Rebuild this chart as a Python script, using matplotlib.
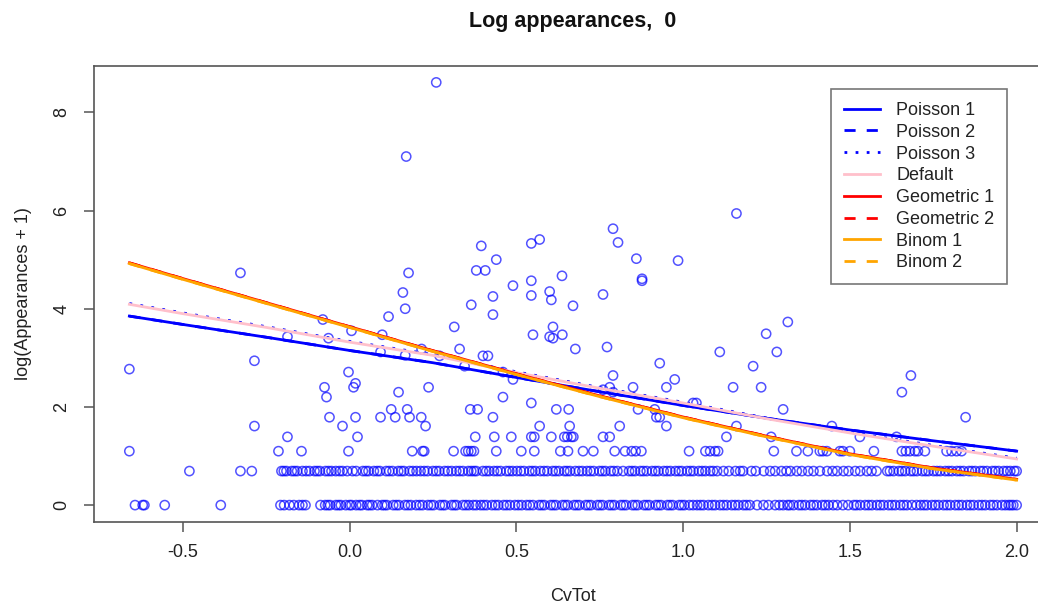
import numpy as np
import matplotlib
matplotlib.use('Agg')
import matplotlib.pyplot as plt

plt.rcParams['font.family'] = ['Liberation Sans', 'DejaVu Sans']

# CvTot values of players with 0 appearances
cv_app0 = [-0.643, -0.62, -0.615, -0.554, -0.386,
           -0.207, -0.196, -0.18, -0.167, -0.151, -0.141, -0.132,
           -0.087, -0.073, -0.058, -0.041, -0.026, -0.011, 0.006, 0.02, 0.037, 0.053, 0.068, 0.084,
           0.098, 0.112, 0.131, 0.148, 0.166, 0.184, 0.2, 0.219, 0.235, 0.252, 0.271, 0.286,
           0.306, 0.321, 0.34, 0.358, 0.371, 0.38,
           0.393, 0.411, 0.427, 0.446, 0.462, 0.481, 0.496, 0.516, 0.531, 0.55, 0.568, 0.584,
           0.603, 0.619, 0.638, 0.654, 0.673, 0.689, 0.708, 0.724, 0.743, 0.759, 0.778, 0.794,
           0.813, 0.829, 0.848, 0.864, 0.883, 0.899, 0.918, 0.934, 0.953, 0.969, 0.988, 1.004,
           1.019, 1.03,
           1.042, 1.061, 1.076, 1.096, 1.111, 1.131, 1.146, 1.166, 1.181, 1.2,
           1.222, 1.241, 1.256, 1.276, 1.289, 1.3,
           1.313, 1.331, 1.347, 1.366, 1.382, 1.401, 1.417, 1.436, 1.45,
           1.462, 1.479, 1.495,
           1.512, 1.531, 1.546, 1.566, 1.581, 1.601, 1.616, 1.636, 1.651, 1.671, 1.686, 1.7,
           1.712, 1.731, 1.746, 1.766, 1.781, 1.801, 1.816, 1.836, 1.851, 1.871, 1.886, 1.906,
           1.921, 1.941, 1.956, 1.976, 1.99, 2.0,
           -0.065, -0.033, 0.0, 0.03, 0.06, 0.105, 0.14, 0.175, 0.21, 0.244, 0.279, 0.314,
           0.349, 0.402, 0.437, 0.471, 0.506, 0.54, 0.576, 0.611, 0.646, 0.681, 0.716, 0.751,
           0.786, 0.821, 0.856, 0.891, 0.926, 0.961, 0.996, 1.052, 1.087, 1.121, 1.156, 1.19,
           1.32, 1.356, 1.391, 1.426, 1.52, 1.556, 1.591, 1.626, 1.661, 1.722, 1.756, 1.791,
           1.826, 1.861, 1.896, 1.93, 1.966, 1.983]

# CvTot values of players with 1 appearance
cv_app1 = [-0.48, -0.327, -0.293,
           -0.204, -0.189, -0.173, -0.157, -0.141, -0.12, -0.105, -0.089, -0.072, -0.054,
           -0.041, -0.021, -0.007, 0.009, 0.02,
           0.04, 0.057, 0.073, 0.091, 0.11, 0.129, 0.146, 0.163, 0.18, 0.201, 0.213, 0.234,
           0.25, 0.269, 0.285, 0.306, 0.32, 0.34, 0.356, 0.373, 0.38,
           0.4, 0.419, 0.433, 0.453, 0.47, 0.489, 0.502, 0.523, 0.539, 0.557, 0.572, 0.593,
           0.609, 0.628, 0.644, 0.661, 0.677, 0.698, 0.712, 0.732, 0.749, 0.767, 0.783, 0.803, 0.82,
           0.838, 0.856, 0.872, 0.891, 0.907, 0.926, 0.942, 0.962, 0.977, 0.996, 1.012, 1.031,
           1.047, 1.067, 1.081, 1.09,
           1.102, 1.121, 1.137, 1.157, 1.171, 1.18,
           1.205, 1.218,
           1.242, 1.261, 1.276, 1.295, 1.31,
           1.322, 1.341, 1.356, 1.375, 1.391, 1.41,
           1.432, 1.448,
           1.462, 1.481, 1.496, 1.516, 1.531, 1.551, 1.565, 1.58,
           1.612, 1.631, 1.647, 1.666, 1.682, 1.701, 1.717, 1.736, 1.751, 1.771, 1.786, 1.806,
           1.821, 1.841, 1.857, 1.876, 1.891, 1.911, 1.927, 1.946, 1.961, 1.981, 1.993, 2.0,
           -0.197, -0.165, -0.13, -0.097, -0.063, -0.03, 0.049, 0.083, 0.119, 0.155, 0.19,
           0.224, 0.26, 0.295, 0.33, 0.365, 0.41, 0.443, 0.479, 0.513, 0.548, 0.583, 0.618,
           0.652, 0.688, 0.722, 0.758, 0.792, 0.847, 0.881, 0.917, 0.952, 0.987, 1.022, 1.057,
           1.62, 1.656, 1.691, 1.727, 1.761, 1.796, 1.831, 1.866, 1.9, 1.936, 1.971]

# CvTot values of players with 2 appearances
cv_app2 = [-0.66, -0.213, -0.144, -0.003, 0.188, 0.219, 0.224, 0.312, 0.348, 0.356, 0.365,
           0.373, 0.44, 0.515, 0.554, 0.632, 0.655, 0.70, 0.731, 0.795, 0.826, 0.846, 0.858,
           0.875, 1.018, 1.067, 1.081, 1.096, 1.105, 1.272, 1.34, 1.374, 1.41, 1.419, 1.431,
           1.47, 1.479, 1.50, 1.572, 1.656, 1.668, 1.68, 1.695, 1.704, 1.725, 1.79, 1.805,
           1.82, 1.835]

# remaining players: (CvTot, log(Appearances + 1))
cv_other = [0.26, 0.17, 1.16, 0.79, 0.805, 0.57, 0.545, 0.395, 0.44, 0.86, 0.985, 0.877,
            0.877, 0.38, 0.407, 0.637, 0.545, 0.49, 0.43, 0.545, 0.60, 0.605, 0.76, 0.67,
            0.365, 0.43, 0.177, 0.16, 0.167, 0.117, 0.098, 0.314, 0.61, 0.55, 0.60, 0.61,
            0.638, 0.677, 0.772, 1.11, 0.216, 0.167, 0.27, 0.33, 0.40, 0.415, 0.345, 0.49,
            0.46, 0.93, 0.79, 0.78, 0.79, 0.76, 0.85, 0.95, 0.975, 0.237, 0.147, 0.46, 0.545,
            1.03, 1.04, 0.362, 0.384, 0.62, 0.657, 0.865, 0.915, 0.92, 0.93, 0.95, 0.81, 0.66,
            0.57, 0.43, 0.228, 0.215, 0.18, 0.137, 0.093, 0.125, 0.173,
            -0.66, -0.327, -0.285, -0.285, -0.186, -0.186, -0.08, -0.063, 0.006, 0.093,
            -0.003, -0.075, -0.069, 0.018, 0.012, -0.06, 0.018, -0.021, 0.024,
            1.249, 1.314, 1.281, 1.21, 1.15, 1.234, 1.30, 1.16, 1.264, 1.683, 1.656, 1.847,
            1.446, 1.53, 1.64, 1.13, 0.377, 0.434, 0.485, 0.545, 0.554, 0.605, 0.644, 0.653,
            0.665, 0.671, 0.76, 0.78]
log_other = [8.61, 7.10, 5.94, 5.63, 5.35, 5.41, 5.33, 5.28, 5.00, 5.02, 4.98, 4.57,
             4.61, 4.78, 4.78, 4.67, 4.57, 4.47, 4.25, 4.27, 4.35, 4.18, 4.29, 4.06,
             4.08, 3.88, 4.73, 4.33, 4.00, 3.84, 3.47, 3.63, 3.63, 3.47, 3.43, 3.40,
             3.47, 3.18, 3.22, 3.12, 3.18, 3.05, 3.04, 3.18, 3.04, 3.04, 2.83, 2.56,
             2.71, 2.89, 2.64, 2.40, 2.30, 2.35, 2.40, 2.40, 2.56, 2.40, 2.30, 2.20, 2.08,
             2.08, 2.08, 1.95, 1.95, 1.95, 1.95, 1.95, 1.95, 1.79, 1.79, 1.61, 1.61, 1.61,
             1.61, 1.79, 1.61, 1.79, 1.79, 1.79, 1.79, 1.95, 1.95,
             2.77, 4.73, 2.94, 1.61, 3.43, 1.39, 3.78, 3.40, 3.55, 3.12,
             2.71, 2.40, 2.20, 2.48, 2.40, 1.79, 1.79, 1.61, 1.39,
             3.49, 3.73, 3.12, 2.83, 2.40, 2.40, 1.95, 1.61, 1.39, 2.64, 2.30, 1.79,
             1.61, 1.39, 1.39, 1.39, 1.39, 1.39, 1.39, 1.39, 1.39, 1.39, 1.39, 1.39,
             1.39, 1.39, 1.39, 1.39]

fit_x = [-0.66, -0.5, -0.25, 0.0, 0.25, 0.5, 0.75, 1.0, 1.25, 1.5, 1.75, 2.0]
poisson_fit = [3.85, 3.68, 3.42, 3.15, 2.90, 2.60, 2.31, 2.03, 1.77, 1.53, 1.31, 1.10]
poisson3_fit = [4.105, 3.915, 3.635, 3.335, 3.065, 2.715, 2.395, 2.095, 1.775, 1.485, 1.215, 0.955]
default_fit = [4.09, 3.90, 3.62, 3.32, 3.05, 2.70, 2.38, 2.08, 1.76, 1.47, 1.20, 0.94]
geometric_fit = [4.935, 4.615, 4.125, 3.635, 3.145, 2.675, 2.225, 1.795, 1.405, 1.045, 0.755, 0.525]
binom_fit = [4.92, 4.60, 4.11, 3.62, 3.13, 2.66, 2.21, 1.78, 1.39, 1.03, 0.74, 0.51]

W, H = 1038, 609
fig = plt.figure(figsize=(W / 100, H / 100), dpi=100)
# plot region runs past the right edge of the picture, as in the original
ax = fig.add_axes([94 / W, 1 - 522 / H, 958 / W, 456 / H])

pts_x = cv_app0 + cv_app1 + cv_app2 + cv_other
pts_y = ([0.0] * len(cv_app0) + [np.log(2)] * len(cv_app1)
         + [np.log(3)] * len(cv_app2) + log_other)
ax.scatter(pts_x, pts_y, s=44, facecolors='none', edgecolors='#0000ff',
           linewidths=1.1, alpha=0.68, zorder=2)

curves = [
    ('Poisson 1', poisson_fit, '#0000ff', '-'),
    ('Poisson 2', poisson_fit, '#0000ff', (0, (4, 4))),
    ('Poisson 3', poisson3_fit, '#0000ff', (0, (1, 3))),
    ('Default', default_fit, '#ffc0cb', '-'),
    ('Geometric 1', geometric_fit, '#ff0000', '-'),
    ('Geometric 2', geometric_fit, '#ff0000', (0, (4, 4))),
    ('Binom 1', binom_fit, '#ffa500', '-'),
    ('Binom 2', binom_fit, '#ffa500', (0, (4, 4))),
]
for name, ys, col, ls in curves:
    ax.plot(fit_x, ys, color=col, linestyle=ls, linewidth=2, label=name, zorder=3)

ax.set_xlim(-0.766, 2.106)
ax.set_ylim(-0.344, 8.944)
ax.set_xticks([-0.5, 0.0, 0.5, 1.0, 1.5, 2.0])
ax.set_xticklabels(['-0.5', '0.0', '0.5', '1.0', '1.5', '2.0'])
ax.set_yticks([0, 2, 4, 6, 8])
ax.set_yticklabels(['0', '2', '4', '6', '8'], rotation=90, va='center')

for side in ['left', 'bottom', 'top', 'right']:
    ax.spines[side].set_color('#555555')
    ax.spines[side].set_linewidth(1.2)
ax.tick_params(axis='both', direction='out', length=7, width=1.1, color='#555555',
               labelsize=13, labelcolor='#222222')
ax.tick_params(axis='x', pad=9)
ax.tick_params(axis='y', pad=10)

ax.set_xlabel('CvTot', fontsize=13, color='#222222')
ax.xaxis.set_label_coords(0.5, (522 - 588) / 456)
ax.set_ylabel('log(Appearances + 1)', fontsize=13, color='#222222')
ax.yaxis.set_label_coords((32 - 94) / 958, 0.5)
ax.set_title('Log appearances,  0', fontsize=15.5, fontweight='bold',
             color='#111111', y=(522 - 30) / 456, va='center')

leg = ax.legend(loc='upper left', bbox_to_anchor=((831 - 94) / 958, (522 - 89) / 456),
                fontsize=13, frameon=True, fancybox=False, handlelength=2.0,
                handletextpad=0.9, labelspacing=0.265, borderpad=0.72,
                borderaxespad=0)
leg.get_frame().set_edgecolor('#555555')
leg.get_frame().set_linewidth(1.2)
for t in leg.get_texts():
    t.set_color('#222222')

fig.savefig('out.png', dpi=100)
